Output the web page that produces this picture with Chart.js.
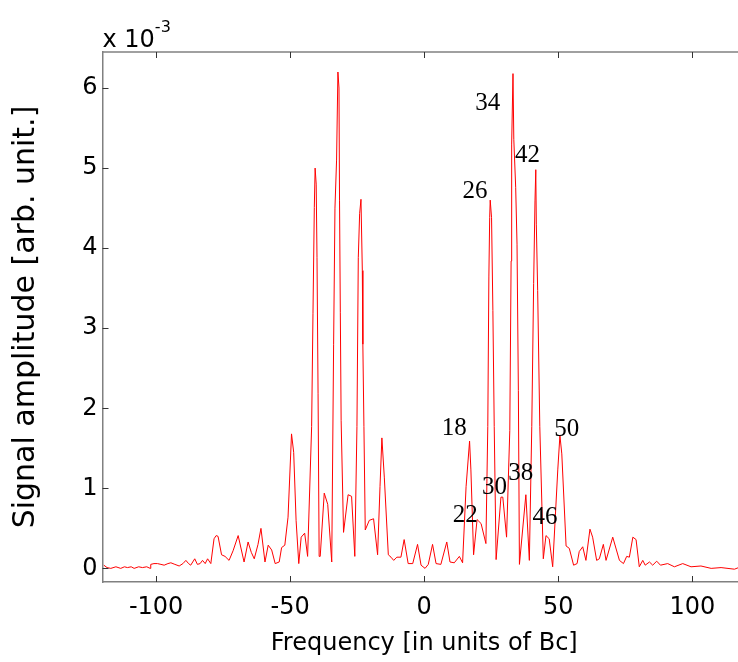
<!DOCTYPE html>
<html>
<head>
<meta charset="utf-8">
<script src="https://cdn.jsdelivr.net/npm/chart.js@4.4.1/dist/chart.umd.min.js"></script>
<style>
html,body{margin:0;padding:0;background:#fff;overflow:hidden;width:738px;height:662px;}
canvas{display:block;}
</style>
</head>
<body>
<canvas id="c" width="746" height="662"></canvas>
<script>
// Frequency (units of Bc)
const freq = [
-119.5,-118.3,-116.9,-115.0,-113.2,-111.8,-110.7,-109.3,-108.2,-106.5,-105.1,-103.5,-102.2,-102.0,-100.8,-99.5,-98.2,-97.0,-95.6,-94.5,-93.0,-91.4,-90.0,-88.9,-87.9,-87.1,-85.6,-84.6,-83.6,-82.7,-81.7,-80.8,-79.6,
-78.4,-77.6,-76.9,-75.6,-74.3,-72.8,-71.3,-69.4,-67.2,-65.7,-64.5,-63.4,-62.0,-60.9,-59.4,-58.2,-56.9,-55.6,-54.1,-53.2,-52.0,
-50.8,-49.5,-48.7,-47.8,-46.8,-45.9,-44.6,-43.5,
-42.0,-41.5,-41.0,-40.7,-40.3,-40.0,-39.6,-39.2,-38.8,-37.3,-36.0,-34.5,
-33.8,-33.3,-32.7,-32.2,-31.8,-31.6,-31.3,-31.0,-30.1,-28.4,-27.1,-25.9,
-25.1,-24.6,-24.1,-23.6,-23.1,-22.9,-22.5,-22.0,-20.5,-18.9,-17.4,
-16.5,-15.8,-14.9,-13.4,-12.4,-11.4,-10.2,-8.7,-7.5,-6.0,-4.3,-2.5,-1.2,0.3,1.5,3.1,4.4,6.2,8.4,9.6,11.2,13.1,14.3,
15.6,16.9,17.4,18.4,19.7,21.2,23.0,
23.7,24.1,24.4,24.6,25.1,25.6,26.1,26.8,28.6,29.3,30.7,
31.9,32.4,32.6,33.1,33.4,34.1,34.6,35.1,35.5,37.9,39.2,
40.1,40.8,41.3,41.6,41.8,42.3,43.1,44.4,45.4,46.6,47.9,
49.8,50.6,51.3,52.9,54.1,55.7,57.0,57.8,59.1,60.3,61.8,62.8,64.3,65.3,66.8,67.8,70.3,72.8,74.3,75.5,76.5,77.8,79.0,
80.2,81.5,82.4,84.0,85.2,86.7,88.1,90.8,93.3,96.4,99.5,103.2,107.0,110.7,115.7,118.0,120.0
];
// Signal amplitude (x 10^-3, arb. unit)
const amp = [
0.04,0.01,0.00,0.02,0.00,0.02,0.01,0.02,0.00,0.02,0.01,0.02,0.00,0.05,0.06,0.06,0.05,0.04,0.06,0.07,0.05,0.03,0.06,0.10,0.06,0.04,0.12,0.05,0.06,0.10,0.06,0.12,0.06,
0.37,0.41,0.40,0.17,0.15,0.10,0.22,0.41,0.08,0.33,0.20,0.12,0.30,0.50,0.08,0.29,0.23,0.06,0.08,0.26,0.29,
0.64,1.68,1.45,0.60,0.06,0.39,0.44,0.15,
1.77,3.18,4.51,5.00,4.80,3.88,2.18,0.15,0.15,0.94,0.80,0.08,
2.80,4.50,5.10,6.20,6.00,4.60,3.20,1.85,0.45,0.92,0.90,0.15,
1.77,3.88,4.43,4.61,3.72,2.80,1.77,0.48,0.60,0.62,0.17,
1.02,1.63,1.14,0.17,0.14,0.10,0.14,0.14,0.36,0.06,0.06,0.30,0.04,0.00,0.05,0.30,0.06,0.05,0.33,0.08,0.07,0.15,0.07,
1.02,1.59,1.23,0.17,0.61,0.56,0.31,
1.77,3.64,4.38,4.60,4.38,3.22,1.77,0.11,0.89,0.89,0.39,
1.72,3.84,5.30,6.18,5.36,4.76,4.05,2.22,0.05,0.92,0.10,
1.77,3.56,4.59,4.98,4.30,3.47,1.77,0.12,0.41,0.37,0.02,
1.23,1.66,1.43,0.28,0.25,0.04,0.06,0.21,0.27,0.10,0.49,0.39,0.10,0.12,0.30,0.10,0.39,0.10,0.06,0.15,0.14,0.39,0.36,
0.02,0.10,0.04,0.08,0.04,0.09,0.04,0.06,0.02,0.06,0.02,0.03,0.00,0.01,-0.01,0.02,0.01
];
const xTicks = [-100, -50, 0, 50, 100];
const yTicks = [0, 1, 2, 3, 4, 5, 6];
// peak annotations (text and anchor in data coordinates: left edge, baseline)
const peakLabels = ['34', '42', '26', '18', '50', '30', '38', '22', '46'];
const peakLabelX = [19.0, 33.8, 14.3, 6.5, 48.5, 21.5, 31.3, 10.6, 40.4];
const peakLabelY = [5.72, 5.07, 4.63, 1.66, 1.65, 0.935, 1.10, 0.58, 0.55];

const SANS = '"DejaVu Sans", "Liberation Sans", Arial, sans-serif';
const SERIF = '"Liberation Serif", "Times New Roman", serif';

const decor = {
  id: 'decor',
  afterDraw(chart) {
    const ctx = chart.ctx, a = chart.chartArea;
    const xs = chart.scales.x, ys = chart.scales.y;
    ctx.save();
    // top box line
    ctx.strokeStyle = '#808080';
    ctx.lineWidth = 1.5;
    ctx.beginPath();
    ctx.moveTo(a.left, a.top);
    ctx.lineTo(a.right, a.top);
    ctx.stroke();
    // inward tick marks
    ctx.strokeStyle = '#333';
    ctx.lineWidth = 1;
    ctx.beginPath();
    xTicks.forEach(v => {
      const px = Math.round(xs.getPixelForValue(v)) + 0.5;
      ctx.moveTo(px, a.bottom); ctx.lineTo(px, a.bottom - 6);
      ctx.moveTo(px, a.top); ctx.lineTo(px, a.top + 6);
    });
    yTicks.forEach(v => {
      const py = Math.round(ys.getPixelForValue(v)) + 0.5;
      ctx.moveTo(a.left, py); ctx.lineTo(a.left + 6, py);
    });
    ctx.stroke();
    // peak labels
    ctx.fillStyle = '#000';
    ctx.font = '25px ' + SERIF;
    ctx.textAlign = 'left';
    ctx.textBaseline = 'alphabetic';
    peakLabels.forEach((t, i) => {
      ctx.fillText(t, xs.getPixelForValue(peakLabelX[i]), ys.getPixelForValue(peakLabelY[i]));
    });
    // exponent multiplier
    ctx.font = '24px ' + SANS;
    ctx.fillText('x 10', a.left, 46.5);
    const w = ctx.measureText('x 10').width;
    ctx.font = '16px ' + SANS;
    ctx.fillText('-3', a.left + w, 31.5);
    ctx.restore();
  }
};

new Chart(document.getElementById('c'), {
  type: 'line',
  data: {
    datasets: [{
      data: freq.map((f, i) => ({x: f, y: amp[i]})),
      borderColor: '#ff0000',
      borderWidth: 1,
      pointRadius: 0,
      tension: 0,
      fill: false
    }]
  },
  options: {
    responsive: false,
    animation: false,
    devicePixelRatio: 1,
    layout: {padding: {top: 52, right: 0, left: 0, bottom: 0}},
    plugins: {legend: {display: false}, tooltip: {enabled: false}},
    scales: {
      x: {
        type: 'linear', min: -120, max: 120,
        afterBuildTicks: s => { s.ticks = xTicks.map(v => ({value: v})); },
        afterFit: s => { s.height = 80; },
        grid: {display: false, drawTicks: false},
        border: {display: true, color: '#808080', width: 1.5},
        ticks: {font: {family: SANS, size: 24}, color: '#000', padding: 11, maxRotation: 0, autoSkip: false},
        title: {display: true, text: 'Frequency [in units of Bc]', color: '#000',
                font: {family: SANS, size: 24}, padding: {top: 0, bottom: 4}}
      },
      y: {
        min: -0.17, max: 6.45,
        afterBuildTicks: s => { s.ticks = yTicks.map(v => ({value: v})); },
        afterFit: s => { s.width = 102.5; },
        grid: {display: false, drawTicks: false},
        border: {display: true, color: '#808080', width: 1.5},
        ticks: {font: {family: SANS, size: 24}, color: '#000', padding: 5, autoSkip: false},
        title: {display: true, text: 'Signal amplitude [arb. unit.]', color: '#000',
                font: {family: SANS, size: 30}, padding: {top: 8, bottom: 0}}
      }
    }
  },
  plugins: [decor]
});
</script>
</body>
</html>
